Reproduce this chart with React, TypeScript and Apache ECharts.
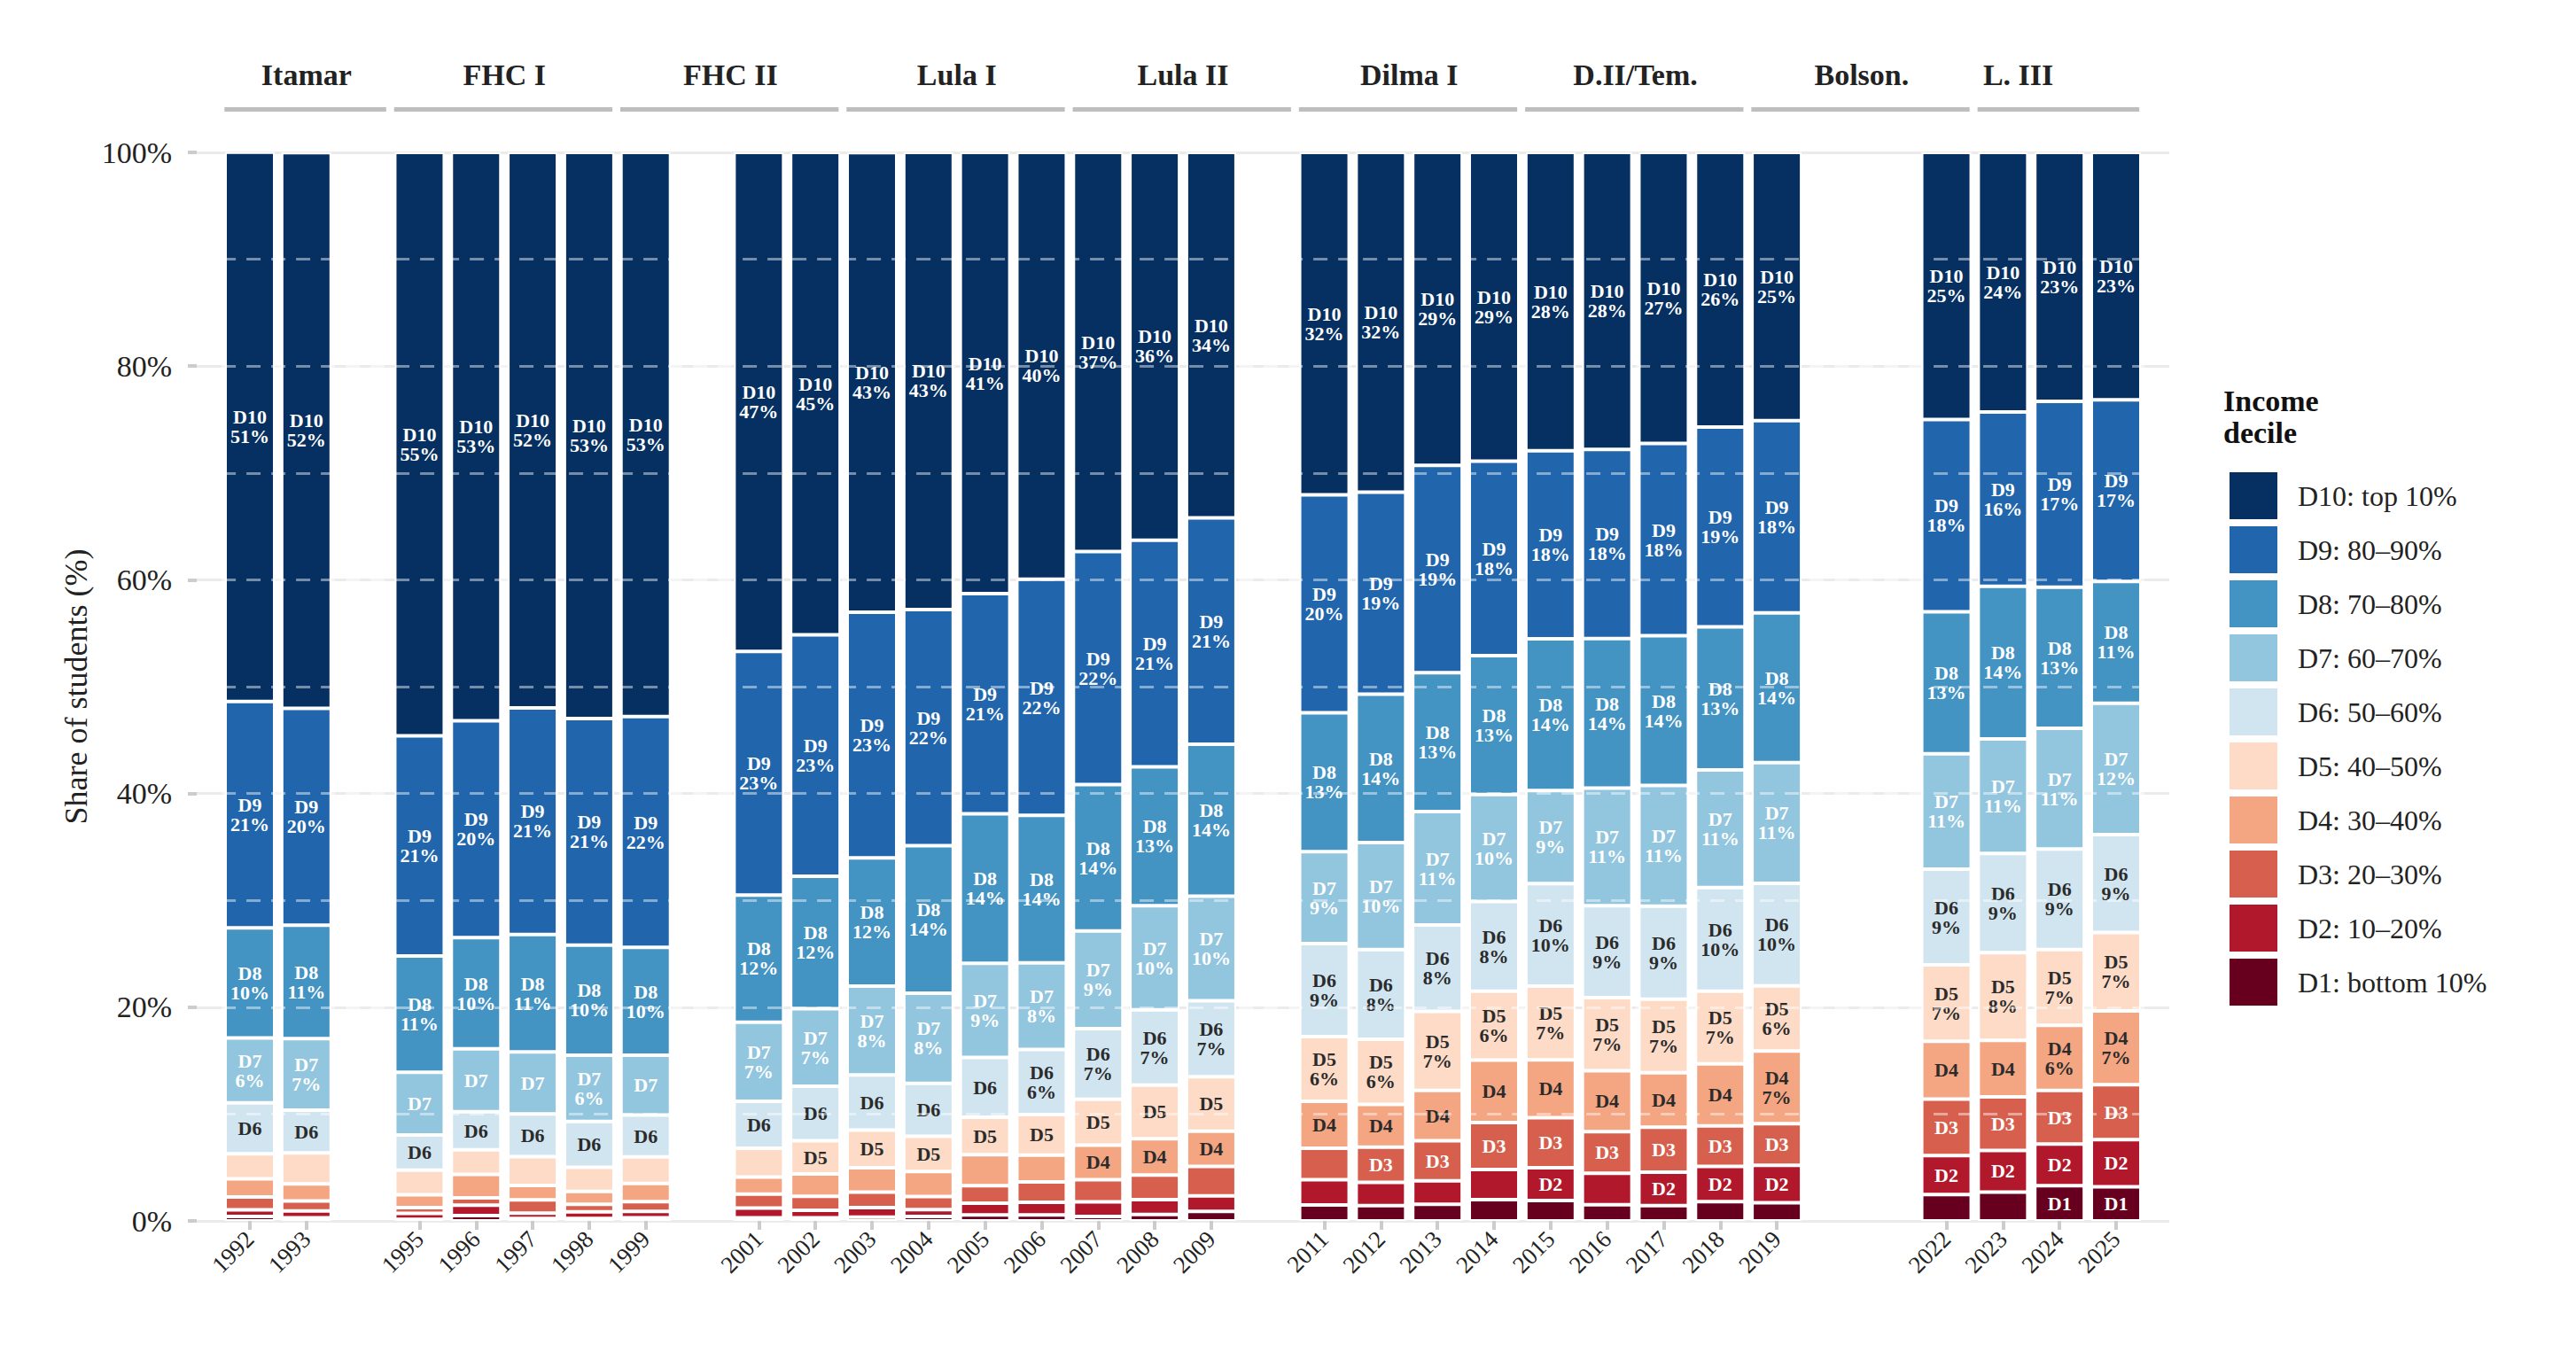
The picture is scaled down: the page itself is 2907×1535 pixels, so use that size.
import React, { useEffect, useRef } from 'react';
import * as echarts from 'echarts';

// every year slot on the x axis (survey missing in 1994, 2000, 2010, 2020, 2021)
const axisYears = [1992, 1993, 1994, 1995, 1996, 1997, 1998, 1999, 2000, 2001, 2002, 2003, 2004, 2005, 2006, 2007, 2008, 2009, 2010, 2011, 2012, 2013, 2014, 2015, 2016, 2017, 2018, 2019, 2020, 2021, 2022, 2023, 2024, 2025];
// survey years with data
const years = [1992, 1993, 1995, 1996, 1997, 1998, 1999, 2001, 2002, 2003, 2004, 2005, 2006, 2007, 2008, 2009, 2011, 2012, 2013, 2014, 2015, 2016, 2017, 2018, 2019, 2022, 2023, 2024, 2025];

// share of students per household income decile (%)
const d1 = [0.41, 0.3, 0.15, 0.5, 0.22, 0.22, 0.3, 0.3, 0.3, 0.36, 0.41, 0.55, 0.55, 0.41, 0.6, 0.9, 1.5, 1.44, 1.55, 2.0, 1.9, 1.52, 1.44, 1.8, 1.7, 2.46, 2.7, 3.3, 3.2];
const d2 = [0.63, 0.63, 0.55, 0.97, 0.5, 0.64, 0.6, 0.9, 0.7, 0.88, 0.64, 1.1, 1.2, 1.38, 1.4, 1.45, 2.35, 2.16, 2.2, 2.8, 3.07, 2.93, 3.12, 3.3, 3.5, 3.65, 3.9, 3.9, 4.4];
const d3 = [1.19, 0.94, 0.55, 0.69, 1.24, 0.7, 0.9, 1.3, 1.3, 1.46, 1.22, 1.65, 1.9, 2.07, 2.3, 2.75, 2.95, 3.3, 3.75, 4.4, 4.7, 3.9, 4.2, 3.8, 3.9, 5.3, 5.0, 5.0, 5.15];
const d4 = [1.71, 1.6, 1.2, 2.2, 1.35, 1.2, 1.7, 1.6, 2.1, 2.27, 2.35, 2.9, 2.5, 3.23, 3.4, 3.3, 4.4, 4.0, 4.7, 5.85, 5.4, 5.7, 5.1, 5.8, 6.8, 5.4, 5.3, 6.1, 6.9];
const d5 = [2.34, 2.9, 2.3, 2.3, 2.7, 2.25, 2.5, 2.7, 3.1, 3.53, 3.3, 3.5, 3.8, 4.3, 5.0, 5.1, 6.05, 6.1, 7.4, 6.45, 6.9, 6.85, 6.9, 6.8, 6.1, 7.15, 8.2, 7.1, 7.35];
const d6 = [4.77, 4.0, 3.3, 3.55, 4.0, 4.3, 3.9, 4.4, 5.1, 5.17, 4.95, 5.6, 6.1, 6.6, 7.05, 7.1, 8.7, 8.4, 8.1, 8.4, 9.6, 8.6, 8.7, 9.7, 9.6, 8.95, 9.3, 9.4, 9.15];
const d7 = [6.07, 6.7, 5.85, 5.9, 5.8, 6.2, 5.6, 7.4, 7.25, 8.3, 8.45, 8.8, 8.1, 9.15, 9.75, 9.8, 8.6, 10.0, 10.6, 10.0, 8.7, 11.0, 11.3, 11.0, 11.3, 10.8, 10.7, 11.3, 12.3];
const d8 = [10.3, 10.6, 10.9, 10.4, 11.0, 10.3, 10.1, 11.9, 12.4, 12.0, 13.8, 14.0, 13.8, 13.7, 13.0, 14.2, 13.0, 13.9, 13.0, 13.0, 14.2, 14.0, 14.0, 13.4, 14.0, 13.3, 14.3, 13.2, 11.4];
const d9 = [21.2, 20.3, 20.6, 20.3, 21.2, 21.2, 21.6, 22.8, 22.6, 23.0, 22.1, 20.6, 22.1, 21.8, 21.2, 21.2, 20.4, 18.9, 19.4, 18.2, 17.6, 17.7, 18.0, 18.7, 18.0, 18.0, 16.3, 17.4, 17.0];
const d10 = [51.4, 52.0, 54.6, 53.2, 52.0, 53.0, 52.8, 46.7, 45.15, 43.0, 42.78, 41.3, 39.95, 37.36, 36.3, 34.2, 32.05, 31.8, 29.3, 28.9, 27.93, 27.8, 27.24, 25.7, 25.1, 24.99, 24.3, 23.3, 23.15];

const shares = [d1, d2, d3, d4, d5, d6, d7, d8, d9, d10];
const decileShort = ['D1', 'D2', 'D3', 'D4', 'D5', 'D6', 'D7', 'D8', 'D9', 'D10'];
const decileNames = ['D1: bottom 10%', 'D2: 10–20%', 'D3: 20–30%', 'D4: 30–40%', 'D5: 40–50%', 'D6: 50–60%', 'D7: 60–70%', 'D8: 70–80%', 'D9: 80–90%', 'D10: top 10%'];
const colors = ['#67001f', '#b2182b', '#d6604d', '#f4a582', '#fddbc7', '#d1e5f0', '#92c5de', '#4393c3', '#2166ac', '#053061'];
const darkLabel = [false, false, false, true, true, true, false, false, false, false];

// presidential terms shown above the bars
const termNames = ['Itamar', 'FHC I', 'FHC II', 'Lula I', 'Lula II', 'Dilma I', 'D.II/Tem.', 'Bolson.', 'L. III'];
const termStart = [1992, 1995, 1999, 2003, 2007, 2011, 2015, 2019, 2023];
const termEnd = [1994, 1998, 2002, 2006, 2010, 2014, 2018, 2022, 2025];
const termLabelAt = [1993, 1996.5, 2000.5, 2004.5, 2008.5, 2012.5, 2016.5, 2020.5, 2023.27];

const dashLevels = [10, 20, 30, 40, 50, 60, 70, 80, 90];

const FONT = '"Liberation Serif", "DejaVu Serif", serif';

// panel (gridlines) spans 222..2448, year slots 1992..2025 sit inside it
const PANEL_L = 222;
const PANEL_R = 2448;
const PAD = 0.44; // slot widths of empty panel beyond the outer bar slots

const App = () => {
  const chartRef = useRef(null);

  useEffect(() => {
    const chart = echarts.init(chartRef.current, null, { renderer: 'svg' });

    const slot = (PANEL_R - PANEL_L) / (axisYears.length + 2 * PAD);
    const barLeft = PANEL_L + PAD * slot;
    const barRight = PANEL_R - PAD * slot;
    const hasData = (v: any) => years.includes(Number(v));

    const series = shares.map((arr, k) => ({
      name: decileNames[k],
      type: 'bar',
      stack: 'total',
      xAxisIndex: 1,
      yAxisIndex: 1,
      barWidth: 56,
      data: axisYears.map((y) => {
        const i = years.indexOf(y);
        return i < 0 ? '-' : arr[i];
      }),
      itemStyle: { color: colors[k], borderColor: '#ffffff', borderWidth: 2 },
      emphasis: { disabled: true },
      label: {
        show: true,
        position: 'inside',
        fontFamily: FONT,
        fontSize: 22,
        fontWeight: 'bold',
        lineHeight: 22,
        color: darkLabel[k] ? '#2b2b2b' : '#ffffff',
        formatter: (p: any) => {
          const v = Number(p.value);
          if (!(v >= 3)) return '';
          if (v >= 6) return `${decileShort[k]}\n${Math.round(v)}%`;
          return decileShort[k];
        },
      },
      ...(k === 9
        ? {
            markLine: {
              silent: true,
              symbol: ['none', 'none'],
              label: { show: false },
              lineStyle: { color: 'rgba(255,255,255,0.45)', type: [16, 12], width: 3 },
              data: dashLevels.map((v) => ({ yAxis: v })),
            },
          }
        : {}),
    }));

    const option = {
      animation: false,
      textStyle: { fontFamily: FONT },
      grid: [
        { left: PANEL_L, right: 2907 - PANEL_R, top: 172, bottom: 157, containLabel: false },
        { left: barLeft, right: 2907 - barRight, top: 172, bottom: 157, containLabel: false },
      ],
      legend: {
        orient: 'vertical',
        left: 2509,
        top: 526,
        itemWidth: 56,
        itemHeight: 55,
        itemGap: 4,
        icon: 'rect',
        selectedMode: false,
        data: [...decileNames].reverse(),
        textStyle: { fontFamily: FONT, fontSize: 32, color: '#222', padding: [0, 0, 0, 17] },
      },
      xAxis: [
        { type: 'value', gridIndex: 0, min: 0, max: 1, show: false },
        {
          type: 'category',
          gridIndex: 1,
          data: axisYears.map(String),
          axisLine: { show: false },
          splitLine: { show: false },
          axisTick: {
            show: true,
            alignWithLabel: true,
            interval: (i: number, v: string) => hasData(v),
            length: 10,
            lineStyle: { color: '#cccccc', width: 4 },
          },
          axisLabel: {
            interval: (i: number, v: string) => hasData(v),
            rotate: 45,
            fontSize: 27,
            color: '#222',
            margin: 16,
            fontFamily: FONT,
          },
        },
      ],
      yAxis: [
        {
          type: 'value',
          gridIndex: 0,
          min: 0,
          max: 100,
          interval: 20,
          name: 'Share of students (%)',
          nameLocation: 'middle',
          nameGap: 115,
          nameTextStyle: { fontSize: 36, color: '#222', fontFamily: FONT },
          axisLine: { show: false },
          axisTick: { show: true, length: 10, lineStyle: { color: '#cccccc', width: 4 } },
          axisLabel: { formatter: '{value}%', fontSize: 34, color: '#222', margin: 28, fontFamily: FONT },
          splitLine: { lineStyle: { color: '#ebebeb', width: 3 } },
        },
        { type: 'value', gridIndex: 1, min: 0, max: 100, show: false, splitLine: { show: false } },
      ],
      series,
    };

    chart.setOption(option);

    // term labels and rules, placed with the category axis scale
    const p0 = chart.convertToPixel({ xAxisIndex: 1 }, String(axisYears[0])) as number;
    const p1 = chart.convertToPixel({ xAxisIndex: 1 }, String(axisYears[1])) as number;
    const px = (v: number) => p0 + (v - axisYears[0]) * (p1 - p0);
    const graphic: any[] = [];
    termNames.forEach((name, i) => {
      graphic.push({
        type: 'line',
        silent: true,
        shape: { x1: px(termStart[i] - 0.45), y1: 123.5, x2: px(termEnd[i] + 0.41), y2: 123.5 },
        style: { stroke: '#bebebe', lineWidth: 5 },
      });
      graphic.push({
        type: 'text',
        silent: true,
        x: px(termLabelAt[i]),
        y: 84,
        style: {
          text: name,
          align: 'center',
          verticalAlign: 'middle',
          fontFamily: FONT,
          fontSize: 34,
          fontWeight: 'bold',
          fill: '#222',
        },
      });
    });
    graphic.push({
      type: 'text',
      silent: true,
      x: 2509,
      y: 434,
      style: {
        text: 'Income\ndecile',
        align: 'left',
        verticalAlign: 'top',
        fontFamily: FONT,
        fontSize: 34,
        fontWeight: 'bold',
        lineHeight: 36,
        fill: '#111',
      },
    });
    chart.setOption({ graphic });

    return () => {
      chart.dispose();
    };
  }, []);

  return <div ref={chartRef} style={{ position: 'absolute', left: 0, top: 0, width: '2907px', height: '1535px' }} />;
};

export default App;
